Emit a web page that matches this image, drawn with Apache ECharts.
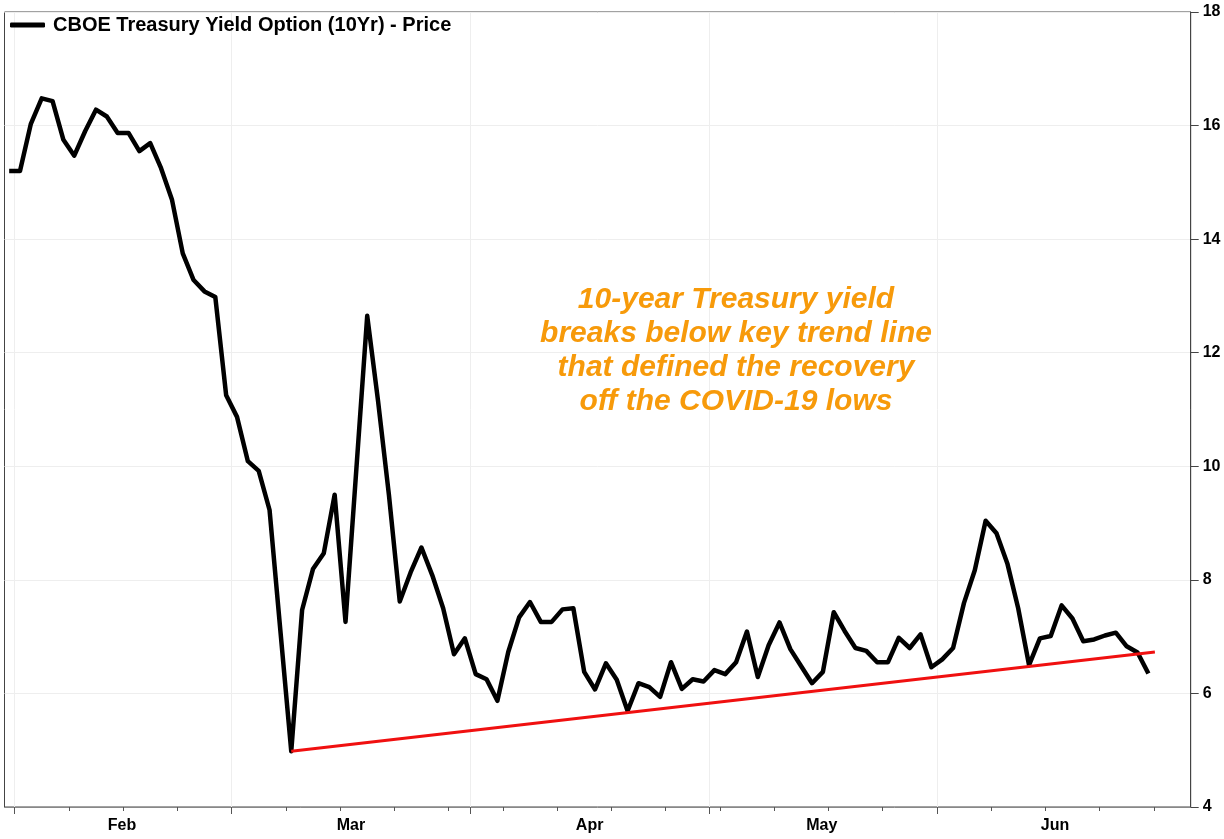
<!DOCTYPE html>
<html>
<head>
<meta charset="utf-8">
<style>
html,body{margin:0;padding:0;background:#fff;}
#echartdiv{width:1224px;height:839px;}
</style>
<script src="https://cdn.jsdelivr.net/npm/echarts@6/dist/echarts.min.js"></script>
</head>
<body>
<div id="echartdiv"></div>
<script>
	// daily closes, Jan 31 onward
	var price = [15.2,15.2,16.03,16.48,16.43,15.75,15.47,15.9,16.28,16.16,
		15.87,15.87,15.55,15.69,15.25,14.7,13.75,13.28,13.08,12.98,
		11.25,10.87,10.09,9.92,9.23,7.1,4.98,7.47,8.19,8.47,
		9.5,7.26,9.95,12.65,11.15,9.5,7.62,8.13,8.57,8.08,
		7.5,6.69,6.97,6.34,6.25,5.87,6.73,7.34,7.61,7.26,
		7.26,7.48,7.5,6.38,6.07,6.53,6.24,5.69,6.18,6.11,
		5.94,6.55,6.08,6.25,6.21,6.41,6.34,6.55,7.09,6.29,
		6.85,7.25,6.78,6.48,6.18,6.38,7.43,7.1,6.8,6.75,
		6.55,6.55,6.98,6.8,7.04,6.46,6.6,6.8,7.59,8.17,
		9.04,8.82,8.29,7.5,6.5,6.97,7.01,7.55,7.32,6.92,
		6.95,7.02,7.07,6.83,6.72,6.35];
	var trend = [[26,4.98],[105.6,6.73]];
	var monthStart = [0.5,20.5,42.5,64.5,85.5];
	var weekTicks = [5.5,10.5,15.5,25.5,30.5,35.5,40.5,45.5,50.5,55.5,60.5,65.5,70.5,75.5,80.5,90.5,95.5,100.5,105.5];
	var monthMid = {10.4:"Feb",31.5:"Mar",53.5:"Apr",74.9:"May",96.4:"Jun"};
	var midValues = [10.4,31.5,53.5,74.9,96.4];
	var fontName = '"Liberation Sans", Arial, sans-serif';

	var seriesData = [];
	for(var i in price)
	{
		seriesData[i] = [Number(i),price[i]];
	}

	var option = {
		animation : false,
		backgroundColor : '#fff',
		title : {
			text : '10-year Treasury yield\nbreaks below key trend line\nthat defined the recovery\noff the COVID-19 lows',
			left : 731,
			top : 278,
			textAlign : 'center',
			textStyle : {
				color : '#F79A0A',
				fontFamily : fontName,
				fontSize : 30,
				fontWeight : 'bold',
				fontStyle : 'italic',
				lineHeight : 34
			}
		},
		legend : {
			data : [ 'CBOE Treasury Yield Option (10Yr) - Price' ],
			left : 10,
			top : 15,
			padding : 0,
			itemGap : 0,
			itemWidth : 35,
			itemHeight : 5,
			icon : 'roundRect',
			textStyle : {
				color : '#000',
				fontFamily : fontName,
				fontSize : 20,
				fontWeight : 'bold',
				padding : [0,0,0,3]
			}
		},
		grid : {
			left : 4.5,
			right : 33.3,
			top : 12,
			bottom : 32,
			show : true,
			borderColor : '#444',
			borderWidth : 1
		},
		xAxis : [ {
			type : 'value',
			min : -0.43,
			max : 108.9,
			position : 'bottom',
			axisLine : { show : true, onZero : false, lineStyle : { color : '#888' } },
			axisTick : { show : true, length : 4, customValues : weekTicks, lineStyle : { color : '#555' } },
			axisLabel : { show : false },
			splitLine : { show : false }
		}, {
			type : 'value',
			min : -0.43,
			max : 108.9,
			position : 'bottom',
			axisLine : { show : false, onZero : false },
			axisTick : { show : true, length : 7, customValues : monthStart, lineStyle : { color : '#555' } },
			axisLabel : {
				show : true,
				customValues : midValues,
				margin : 11,
				color : '#000',
				fontFamily : fontName,
				fontSize : 16,
				fontWeight : 'bold',
				formatter : function(value) {
					return monthMid[value];
				}
			},
			splitLine : { show : true, lineStyle : { color : '#eee', width : 1 } }
		} ],
		yAxis : [ {
			type : 'value',
			position : 'right',
			min : 4,
			max : 18,
			interval : 2,
			axisLine : { show : true, onZero : false, lineStyle : { color : '#444' } },
			axisTick : { show : true, length : 8, lineStyle : { color : '#444' } },
			axisLabel : {
				margin : 12,
				color : '#000',
				fontFamily : fontName,
				fontSize : 16,
				fontWeight : 'bold'
			},
			splitLine : { show : true, lineStyle : { color : '#eee', width : 1 } }
		} ],
		series : [ {
			name : 'CBOE Treasury Yield Option (10Yr) - Price',
			type : 'line',
			data : seriesData,
			showSymbol : false,
			symbol : 'none',
			itemStyle : { color : '#000' },
			lineStyle : { color : '#000', width : 4.5, join : 'round' }
		}, {
			name : 'trend',
			type : 'line',
			data : trend,
			showSymbol : false,
			symbol : 'none',
			lineStyle : { color : '#f01010', width : 3 }
		} ]
	};
	var myChart = echarts.init(document.getElementById('echartdiv'));
	myChart.setOption(option);
</script>
</body>
</html>
